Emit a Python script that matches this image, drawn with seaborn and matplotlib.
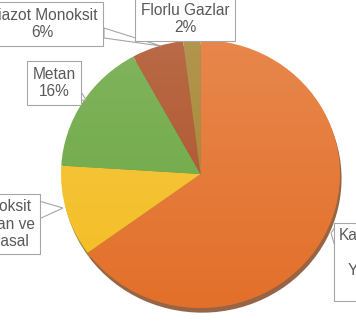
import matplotlib
matplotlib.use("Agg")
import matplotlib.pyplot as plt
import seaborn as sns
import numpy as np
from matplotlib.patches import Polygon, Circle

sns.set_theme(style="white")
plt.rcParams['font.family'] = ['Liberation Sans', 'DejaVu Sans']

# ---- data (clockwise from 12 o'clock) ----
categories = ["Karbondioksit\nFosil\nYakıtlardan\n65%",
              "Karbondioksit\nAğaçlardan ve\nTüm Karasal",
              "Metan\n16%",
              "Diazot Monoksit\n6%",
              "Florlu Gazlar\n2%"]
values = [65, 11, 16, 6, 2]
colors = ["#E3702A", "#F4BE22", "#6AA640", "#AC4E24", "#A4822C"]

W, H, DPI = 356, 324, 100
fig = plt.figure(figsize=(W / DPI, H / DPI), dpi=DPI)
ax = fig.add_axes([0, 0, 1, 1])

# pixel geometry of the pie in the reference
CX, CY, RX, RY = 200.5, 174.0, 139.5, 134.0


def P(px, py):
    """reference pixel -> data coords"""
    return ((px - CX) / RX, (CY - py) / RY)


ax.pie(values, colors=colors, startangle=90, counterclock=False,
       radius=1.0, center=(0, 0),
       wedgeprops=dict(linewidth=0),
       shadow=dict(ox=0.008, oy=-0.025, shade=0.45, alpha=0.8))

# soft vertical light gradient over the pie (lighter at the top)
grad = np.zeros((256, 2, 4))
t = np.linspace(1, 0, 256)  # row 0 = top
grad[..., 0:3] = 1.0
grad[..., 3] = (0.16 * t)[:, None]
clip = Circle((0, 0), 1.0, transform=ax.transData)
im = ax.imshow(grad, extent=(-1, 1, -1, 1), origin='upper',
               interpolation='bilinear', zorder=2)
im.set_clip_path(clip)

ax.set_xlim(P(0, 0)[0], P(W, 0)[0])
ax.set_ylim(P(0, H)[1], P(0, 0)[1])
ax.set_aspect('auto')
ax.axis('off')

# label layout in reference pixels: text center, callout base points, tip
labels_layout = [
    ((386, 262), [(336, 226), (336, 250)], (331, 233)),
    ((-15, 224), [(39, 201), (39, 219)], (63, 208)),
    ((54, 83), [(80, 90), (75, 101)], (86, 100)),
    ((42, 24), [(104, 28), (104, 38)], (161, 46)),
    ((185, 19), None, None),
]

edge = "#A6A6A6"
txtc = "#595959"
for lab, (center, base, tip) in zip(categories, labels_layout):
    if base is not None:
        poly = Polygon([P(*base[0]), P(*tip), P(*base[1])], closed=True,
                       facecolor="white", edgecolor=edge, linewidth=0.8,
                       zorder=3, clip_on=False)
        ax.add_patch(poly)
    x, y = P(*center)
    ax.text(x, y, lab, ha='center', va='center', fontsize=11.2,
            color=txtc, linespacing=1.2, zorder=4, clip_on=False,
            bbox=dict(boxstyle="square,pad=0.35", facecolor="white",
                      edgecolor=edge, linewidth=0.8))

fig.savefig("out.png", dpi=DPI)
